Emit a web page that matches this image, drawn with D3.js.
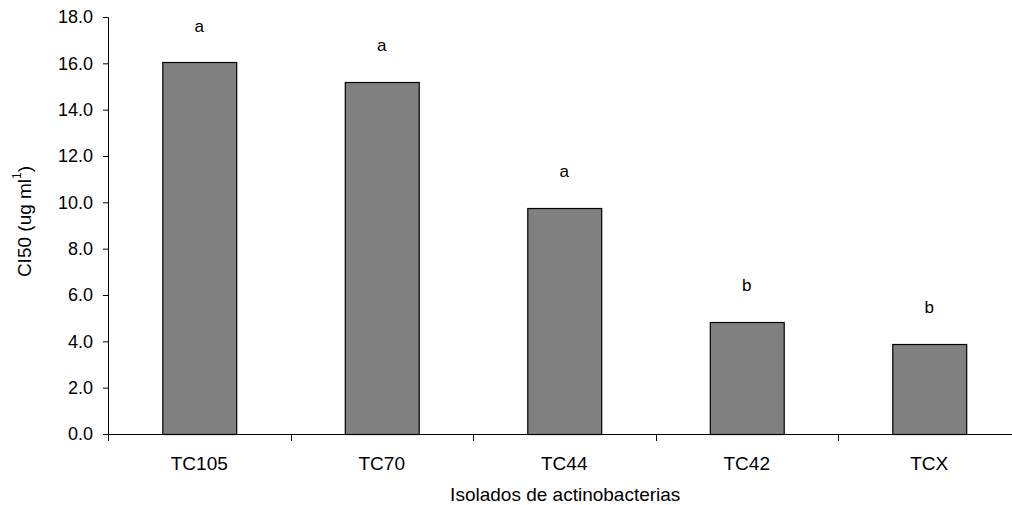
<!DOCTYPE html>
<html>
<head>
<meta charset="utf-8">
<script src="https://cdn.jsdelivr.net/npm/d3@7"></script>
<style>
  html, body { margin: 0; padding: 0; background: #fff; }
  svg { display: block; font-family: Arial, "Liberation Sans", sans-serif; }
</style>
</head>
<body>
<div id="chart"></div>
<script>
// datos
const isolados = ["TC105", "TC70", "TC44", "TC42", "TCX"];
const ci50     = [16.05, 15.2, 9.77, 4.84, 3.9];
const letras   = ["a", "a", "a", "b", "b"];
const yTicks   = [0, 2, 4, 6, 8, 10, 12, 14, 16, 18];

const width = 1012, height = 505;
const margin = { top: 17, right: -8.5, bottom: 71, left: 108 };
const innerW = width - margin.left - margin.right;
const innerH = height - margin.top - margin.bottom;

const svg = d3.select("#chart").append("svg")
  .attr("width", width).attr("height", height);

const g = svg.append("g").attr("transform", `translate(${margin.left},${margin.top})`);

const x = d3.scaleBand().domain(isolados).range([0, innerW]).paddingInner(0.595).paddingOuter(0.2975);
const y = d3.scaleLinear().domain([0, 18]).range([innerH, 0]);

// eje Y
const yAx = g.append("g")
  .call(d3.axisLeft(y).tickValues(yTicks).tickFormat(d3.format(".1f")).tickSizeOuter(0).tickSize(5).tickPadding(10));
yAx.select(".domain").attr("stroke", "#000");
yAx.selectAll("line").attr("stroke", "#000");
yAx.selectAll("text").attr("font-size", 18).attr("fill", "#000").attr("font-family", "Arial, 'Liberation Sans', sans-serif");

// barras
g.selectAll("rect.bar").data(isolados).join("rect").attr("class", "bar")
  .attr("x", d => x(d) + 0.5)
  .attr("y", (d, i) => Math.round(y(ci50[i])) + 0.5)
  .attr("width", x.bandwidth())
  .attr("height", (d, i) => innerH - Math.round(y(ci50[i])))
  .attr("fill", "#808080").attr("stroke", "#000").attr("stroke-width", 1.2);

// letras
g.selectAll("text.letra").data(isolados).join("text").attr("class", "letra")
  .attr("x", d => x(d) + x.bandwidth() / 2)
  .attr("y", (d, i) => y(ci50[i]) - 36)
  .attr("text-anchor", "middle").attr("dominant-baseline", "central")
  .attr("font-size", 17).text((d, i) => letras[i]);

// eje X
const step = x.step();
const gap = step - x.bandwidth();
g.append("line").attr("x1", 0).attr("x2", innerW).attr("y1", innerH + 0.5).attr("y2", innerH + 0.5)
  .attr("stroke", "#000");
const bounds = isolados.map(d => x(d) - gap / 2).concat([x(isolados[isolados.length - 1]) + x.bandwidth() + gap / 2]);
g.selectAll("line.xt").data(bounds).join("line").attr("class", "xt")
  .attr("x1", d => Math.round(d) + 0.5).attr("x2", d => Math.round(d) + 0.5)
  .attr("y1", innerH).attr("y2", innerH + 7).attr("stroke", "#000");
g.selectAll("text.xl").data(isolados).join("text").attr("class", "xl")
  .attr("x", d => x(d) + x.bandwidth() / 2).attr("y", innerH + 29)
  .attr("text-anchor", "middle").attr("dominant-baseline", "central")
  .attr("font-size", 19).text(d => d);

// títulos
g.append("text").attr("x", innerW / 2 + 1).attr("y", innerH + 60)
  .attr("text-anchor", "middle").attr("dominant-baseline", "central")
  .attr("font-size", 19).text("Isolados de actinobacterias");

const yt = g.append("text")
  .attr("transform", `translate(${24 - margin.left},${innerH / 2 - 4}) rotate(-90)`)
  .attr("text-anchor", "middle").attr("dominant-baseline", "central")
  .attr("font-size", 19);
yt.append("tspan").text("CI50 (ug ml");
yt.append("tspan").attr("font-size", 12).attr("dy", -7).text("1");
yt.append("tspan").attr("dy", 7).text(")");
</script>
</body>
</html>
